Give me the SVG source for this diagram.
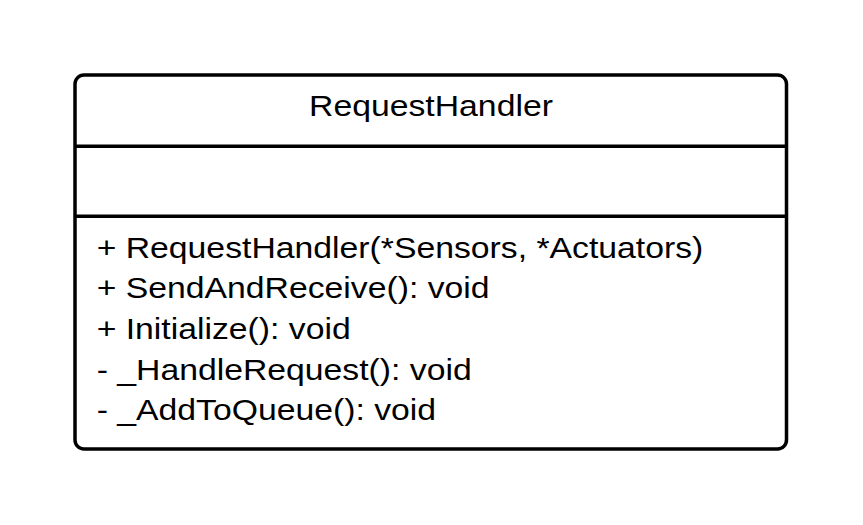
<svg xmlns="http://www.w3.org/2000/svg" width="863" height="525" viewBox="0 0 863 525">
<style>
.box{fill:#fff;stroke:#000;stroke-width:3.5}
.div{stroke:#000;stroke-width:3.5}
text{font-family:"Liberation Sans",Arial,sans-serif;font-size:30px;fill:#000}
</style>
<rect width="863" height="525" fill="#fff"/>
<g id="RequestHandler">
<rect class="box" x="75" y="75" width="711.5" height="374" rx="9"/>
<line class="div" x1="75" y1="146.3" x2="786.5" y2="146.3"/>
<line class="div" x1="75" y1="216.3" x2="786.5" y2="216.3"/>
<g transform="scale(1.125,1)">
<text x="383.1" y="116.5" text-anchor="middle">RequestHandler</text>
<text x="85.9" y="258">+ RequestHandler(*Sensors, *Actuators)</text>
<text x="85.9" y="298.5">+ SendAndReceive(): void</text>
<text x="85.9" y="339">+ Initialize(): void</text>
<text x="85.9" y="379.7">- _HandleRequest(): void</text>
<text x="85.9" y="420.3">- _AddToQueue(): void</text>
</g>
</g>
<g id="connectors"/>
</svg>
